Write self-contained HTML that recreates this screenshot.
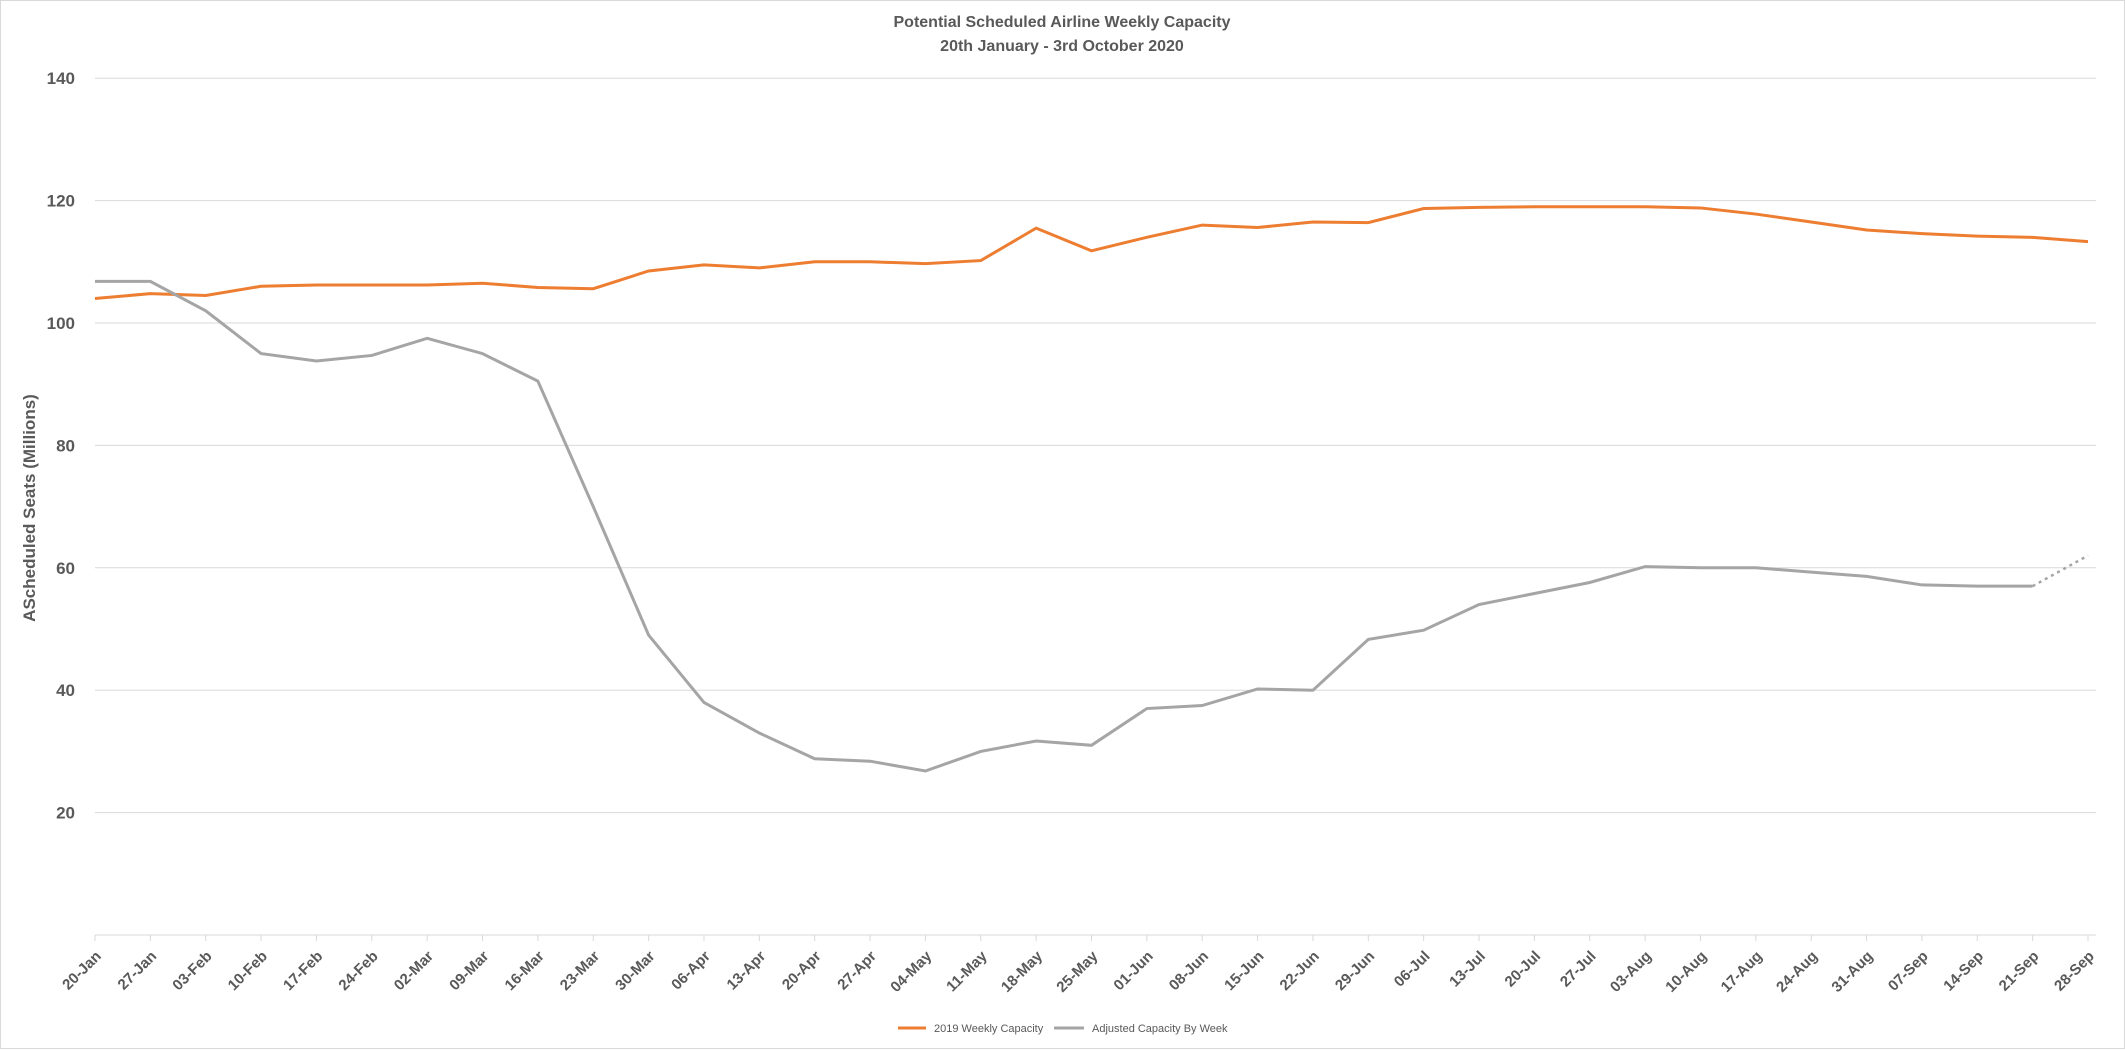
<!DOCTYPE html>
<html><head><meta charset="utf-8"><style>
html,body{margin:0;padding:0;background:#fff;}
svg{display:block;font-family:"Liberation Sans",sans-serif;}
</style></head><body>
<svg id="c" width="2125" height="1050" xmlns="http://www.w3.org/2000/svg">
<rect x="0.5" y="0.5" width="2124" height="1048" fill="#fff" stroke="#d9d9d9"/>
<text x="1062" y="27" text-anchor="middle" font-size="16" font-weight="bold" fill="#595959">Potential Scheduled Airline Weekly Capacity</text>
<text x="1062" y="51" text-anchor="middle" font-size="16" font-weight="bold" fill="#595959">20th January - 3rd October 2020</text>
<text transform="translate(35,508) rotate(-90)" text-anchor="middle" font-size="17" font-weight="bold" fill="#595959">AScheduled Seats (Millions)</text>
<g id="grid"></g>
<g id="lab"></g>
<polyline id="o" fill="none" stroke="#ED7D31" stroke-width="3"/>
<polyline id="g" fill="none" stroke="#A5A5A5" stroke-width="3"/>
<line id="gd" stroke="#A5A5A5" stroke-width="2.5" stroke-dasharray="3,4"/>
<line x1="898" y1="1028" x2="926" y2="1028" stroke="#ED7D31" stroke-width="3"/>
<text x="934" y="1032" font-size="11" fill="#595959">2019 Weekly Capacity</text>
<line x1="1054" y1="1028" x2="1084" y2="1028" stroke="#A5A5A5" stroke-width="3"/>
<text x="1092" y="1032" font-size="11" fill="#595959">Adjusted Capacity By Week</text>
</svg>
<script>
var L=["20-Jan","27-Jan","03-Feb","10-Feb","17-Feb","24-Feb","02-Mar","09-Mar","16-Mar","23-Mar","30-Mar","06-Apr","13-Apr","20-Apr","27-Apr","04-May","11-May","18-May","25-May","01-Jun","08-Jun","15-Jun","22-Jun","29-Jun","06-Jul","13-Jul","20-Jul","27-Jul","03-Aug","10-Aug","17-Aug","24-Aug","31-Aug","07-Sep","14-Sep","21-Sep","28-Sep"];
var O=[104,104.8,104.5,106,106.2,106.2,106.2,106.5,105.8,105.6,108.5,109.5,109,110,110,109.7,110.2,115.5,111.8,114,116,115.6,116.5,116.4,118.7,118.9,119,119,119,118.8,117.8,116.5,115.2,114.6,114.2,114,113.3];
var G=[106.8,106.8,102,95,93.8,94.7,97.5,95,90.5,70,49,38,33,28.8,28.4,26.8,30,31.7,31,37,37.5,40.2,40,48.3,49.8,54,55.8,57.6,60.2,60,60,59.3,58.6,57.2,57,57];
var x0=95,dx=(2088-95)/36;
function X(i){return x0+i*dx}function Y(v){return 935-v*122.4/20}
var ns="http://www.w3.org/2000/svg",gr=document.getElementById("grid"),lb=document.getElementById("lab");
function el(p,t,a,tx){var e=document.createElementNS(ns,t);for(var k in a)e.setAttribute(k,a[k]);if(tx)e.textContent=tx;p.appendChild(e);return e}
[20,40,60,80,100,120,140].forEach(function(v){var y=Y(v);el(gr,"line",{x1:95,x2:2096,y1:y,y2:y,stroke:"#d9d9d9","stroke-width":1});
el(lb,"text",{x:75,y:y+6,"text-anchor":"end","font-size":17,"font-weight":"bold",fill:"#595959"},v)});
el(gr,"line",{x1:95,x2:2096,y1:935,y2:935,stroke:"#d9d9d9","stroke-width":1});
L.forEach(function(s,i){var x=X(i);el(gr,"line",{x1:x,x2:x,y1:935,y2:941,stroke:"#d9d9d9"});
el(lb,"text",{x:0,y:0,"text-anchor":"end","font-size":15,"font-weight":"bold",fill:"#595959",transform:"translate("+(x+7)+",957) rotate(-45)"},s)});
document.getElementById("o").setAttribute("points",O.map(function(v,i){return X(i)+","+Y(v)}).join(" "));
document.getElementById("g").setAttribute("points",G.map(function(v,i){return X(i)+","+Y(v)}).join(" "));
var d=document.getElementById("gd");d.setAttribute("x1",X(35));d.setAttribute("y1",Y(57));d.setAttribute("x2",X(36));d.setAttribute("y2",Y(62));
</script>
</body></html>
